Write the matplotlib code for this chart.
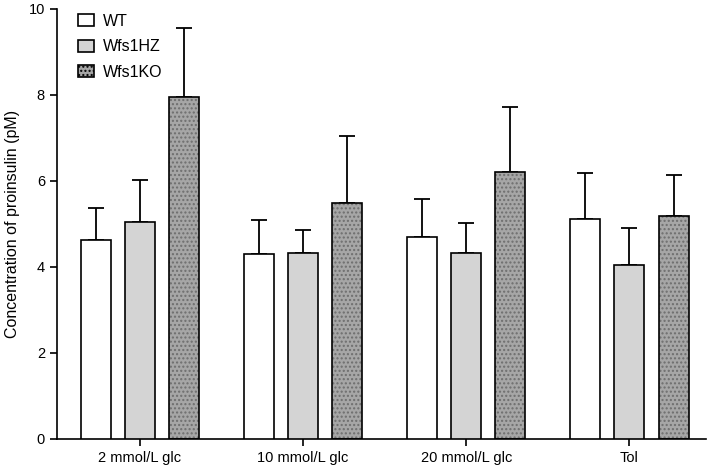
import numpy as np
import matplotlib
matplotlib.use("Agg")
import matplotlib.pyplot as plt
import matplotlib as mpl
from matplotlib.patches import Patch

# ==========================
# style
# ==========================

mpl.rcParams["font.family"] = ["Liberation Sans", "DejaVu Sans"]
mpl.rcParams["font.size"] = 10.5
mpl.rcParams["hatch.linewidth"] = 1.0

# ==========================
# Data
# ==========================

categories = ["2 mmol/L glc", "10 mmol/L glc", "20 mmol/L glc", "Tol"]
groups = ["WT", "Wfs1HZ", "Wfs1KO"]

wt_mean = [4.63, 4.30, 4.70, 5.12]
wt_err = [0.74, 0.80, 0.87, 1.07]

hz_mean = [5.05, 4.32, 4.33, 4.04]
hz_err = [0.97, 0.53, 0.70, 0.86]

ko_mean = [7.95, 5.48, 6.20, 5.19]
ko_err = [1.60, 1.57, 1.53, 0.95]

# ==========================
# Figure
# ==========================

fig = plt.figure(figsize=(7.09, 4.70), dpi=100)
ax = fig.add_axes([0.080, 0.066, 0.916, 0.915])

x = np.arange(len(categories))
width = 0.184
offset = 0.27

err_kw = dict(ecolor="black", elinewidth=1.3, capsize=5.5, capthick=1.3)

means = [wt_mean, hz_mean, ko_mean]
errs = [wt_err, hz_err, ko_err]
faces = ["white", "#d4d4d4", "#a6a6a6"]

for i in range(3):
    pos = x + (i - 1) * offset
    m = np.array(means[i])
    e = np.array(errs[i])
    if i == 2:
        # dotted fill
        ax.bar(pos, m, width, color=faces[i], edgecolor="#6e6e6e",
               hatch="....", linewidth=0, zorder=2)
        ax.bar(pos, m, width, fill=False, edgecolor="black",
               linewidth=1.2, zorder=3)
    else:
        ax.bar(pos, m, width, color=faces[i], edgecolor="black",
               linewidth=1.2, zorder=3)
    ax.errorbar(pos, m, yerr=[np.zeros_like(e), e], fmt="none",
                zorder=1, **err_kw)

# ==========================
# Axes
# ==========================

ax.set_xlim(-0.51, 3.47)
ax.set_ylim(0, 10)
ax.set_yticks([0, 2, 4, 6, 8, 10])
ax.set_xticks(x)
ax.set_xticklabels(categories)
ax.set_ylabel("Concentration of proinsulin (pM)", fontsize=11.5, labelpad=6)

for s in ["top", "right"]:
    ax.spines[s].set_visible(False)
for s in ["left", "bottom"]:
    ax.spines[s].set_linewidth(1.2)

ax.tick_params(direction="out", length=5, width=1.2, labelsize=10.5)

# ==========================
# Legend
# ==========================

handles = [
    Patch(facecolor="white", edgecolor="black", linewidth=1.2),
    Patch(facecolor="#d4d4d4", edgecolor="black", linewidth=1.2),
    Patch(facecolor="#a6a6a6", edgecolor="black", linewidth=1.2, hatch="...."),
]

ax.legend(handles, groups, loc="upper left", frameon=False,
          bbox_to_anchor=(0.01, 1.022), handlelength=1.0, handleheight=0.8,
          handletextpad=0.6, labelspacing=0.65, fontsize=11.5)

fig.savefig("out.png", dpi=100)
